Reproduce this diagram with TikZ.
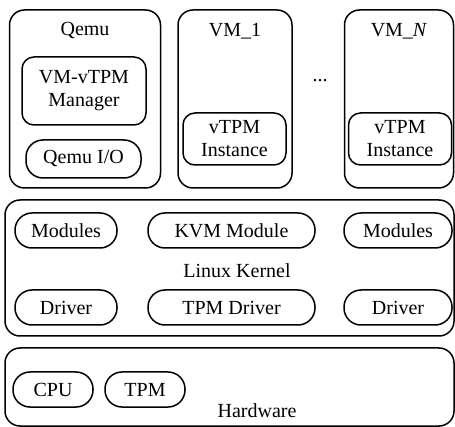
\documentclass[tikz,border=0pt]{standalone}
\usepackage{fontspec}
\setmainfont{Liberation Serif}
\begin{document}
\begin{tikzpicture}[x=1pt,y=-1pt,
  every node/.style={font=\fontsize{20}{23}\selectfont, inner sep=0pt, align=center},
  bigbox/.style={draw, line width=1.5pt, rounded corners=15pt},
  innerbox/.style={draw, line width=1.5pt, rounded corners=12pt},
  pill/.style={draw, line width=1.5pt, rounded corners=17pt, minimum height=35pt}]
\useasboundingbox (0,0) rectangle (455,427);
% top boxes
\node[bigbox, minimum width=151pt, minimum height=178pt] (qemu) at (85,99) {};
\node (qemut) at (85,31) {Qemu};
\node[innerbox, minimum width=124pt, minimum height=68pt] (mgr) at (84,91) {VM-vTPM\\Manager};
\node[pill, minimum width=115pt, minimum height=38pt] (qio) at (83.5,159) {Qemu I/O};
\node[bigbox, minimum width=114pt, minimum height=178pt] (vm1) at (235,99) {};
\node (vm1t) at (235,31) {VM\_1};
\node[innerbox, minimum width=103pt, minimum height=52pt] (inst1) at (234.5,139) {vTPM\\Instance};
\node (dots) at (320,81) {...};
\node[bigbox, minimum width=109pt, minimum height=178pt] (vmn) at (399,99) {};
\node (vmnt) at (399,31) {VM\_\textit{N}};
\node[innerbox, minimum width=103pt, minimum height=52pt] (instn) at (400,139) {vTPM\\Instance};
% kernel
\node[bigbox, minimum width=449pt, minimum height=136pt] (kernel) at (229.5,268) {};
\node[pill, minimum width=102pt] (mod1) at (66,230.5) {Modules};
\node[pill, minimum width=167pt] (kvm) at (231.5,230.5) {KVM Module};
\node[pill, minimum width=108pt] (mod2) at (398,230.5) {Modules};
\node (lk) at (237,271) {Linux Kernel};
\node[pill, minimum width=102pt] (drv1) at (66,307.5) {Driver};
\node[pill, minimum width=167pt] (tpmdrv) at (231.5,307.5) {TPM Driver};
\node[pill, minimum width=108pt] (drv2) at (398,307.5) {Driver};
% hardware
\node[bigbox, minimum width=449pt, minimum height=78pt] (hw) at (229.5,387) {};
\node[pill, minimum width=80pt] (cpu) at (53,389.5) {CPU};
\node[pill, minimum width=80pt] (tpm) at (145,389.5) {TPM};
\node (hwt) at (257,411) {Hardware};
\end{tikzpicture}
\end{document}
